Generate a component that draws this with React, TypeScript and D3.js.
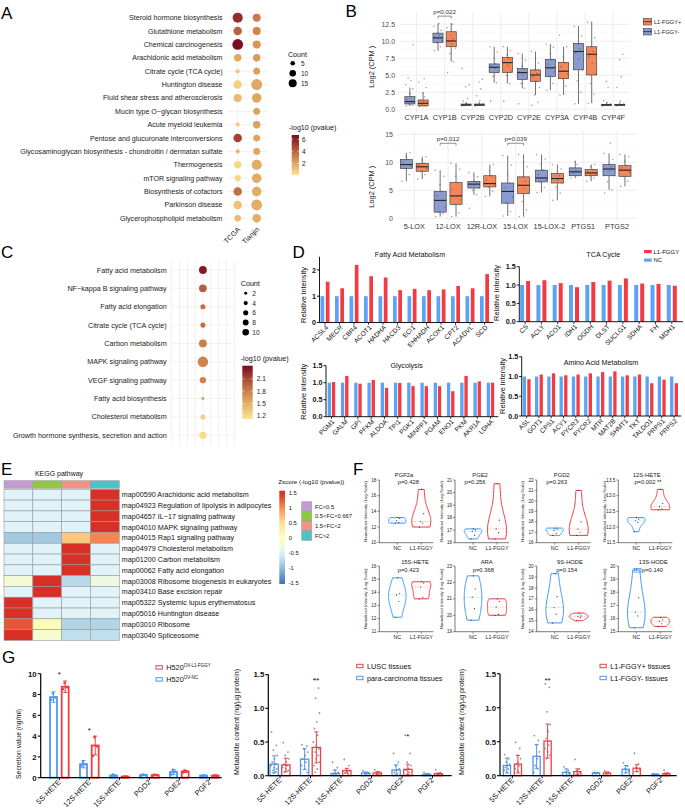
import React from "react";
import * as d3 from "d3";

const FONT = "'Liberation Sans', Arial, Helvetica, sans-serif";
const JIT = [-3.4, 2.2, -1.1, 3.7, 0.5, -2.6, 1.4, -0.2, 2.9, -3.9, 1.0, -1.7, 3.2, -0.8, 2.5, -2.1, 0.2];

// ---------------- Panel A data ----------------
const A_PATHWAYS = [
  "Steroid hormone biosynthesis",
  "Glutathione metabolism",
  "Chemical carcinogenesis",
  "Arachidonic acid metabolism",
  "Citrate cycle (TCA cycle)",
  "Huntington disease",
  "Fluid shear stress and atherosclerosis",
  "Mucin type O\u2212glycan biosynthesis",
  "Acute myeloid leukemia",
  "Pentose and glucuronate interconversions",
  "Glycosaminoglycan biosynthesis - chondroitin / dermatan sulfate",
  "Thermogenesis",
  "mTOR signaling pathway",
  "Biosynthesis of cofactors",
  "Parkinson disease",
  "Glycerophospholipid metabolism",
];
const A_COHORTS = ["TCGA", "Tianjin"];
const A_TCGA_LOGP = [5.6, 4.0, 6.6, 1.9, 1.0, 0.6, 1.4, null, 0.8, 5.0, 1.4, 0.4, 0.5, 3.6, 1.1, 1.3];
const A_TCGA_COUNT = [24, 17, 27, 13, 4, 17, 15, null, 4, 17, 4, 13, 9, 17, 17, 10];
const A_TIANJIN_LOGP = [3.3, 3.0, 2.4, 2.3, 2.2, 1.9, 2.0, 2.1, 2.1, 2.0, 2.0, 1.8, 1.8, 1.8, 1.7, 1.8];
const A_TIANJIN_COUNT = [15, 15, 15, 13, 11, 28, 21, 11, 13, 11, 11, 24, 21, 21, 27, 17];
const A_COUNT_LEGEND = [5, 10, 15];
const A_LOGP_LEGEND = [2, 4, 6];

// ---------------- Panel B data ----------------
const B_GROUPS = ["L1-FGGY+", "L1-FGGY-"];
const B1_GENES = ["CYP1A", "CYP1B", "CYP2B", "CYP2D", "CYP2E", "CYP3A", "CYP4B", "CYP4F"];
// [lower whisker, q1, median, q3, upper whisker]
const B1_NEG = [
  [0.5, 0.78, 1.13, 1.86, 3.2], [8.6, 9.8, 10.5, 11.2, 12.6], [0.5, 0.55, 0.65, 0.78, 1.1], [3.9, 5.39, 6.18, 6.67, 9.2],
  [3.1, 4.4, 5.4, 6.0, 8.2], [2.8, 4.8, 6.1, 7.35, 9.6], [0.8, 5.8, 8.5, 9.7, 12.25], [0.5, 0.55, 0.65, 0.73, 1.0],
];
const B1_POS = [
  [0.4, 0.5, 0.88, 1.37, 2.5], [7.0, 9.2, 10.05, 11.4, 12.7], [0.5, 0.55, 0.65, 0.78, 1.1], [3.8, 5.4, 6.86, 7.65, 9.2],
  [2.1, 4.1, 5.05, 5.8, 8.5], [2.1, 4.5, 5.6, 6.9, 9.2], [0.9, 5.05, 8.1, 9.2, 12.9], [0.5, 0.55, 0.65, 0.73, 1.0],
];
const B1_NEG_PTS = [
  [0.5, 0.6, 0.8, 1.0, 1.2, 1.5, 1.8, 2.3, 3.0, 3.6, 4.2, 4.6, 9.5],
  [8.6, 9.2, 9.8, 10.1, 10.4, 10.6, 10.9, 11.2, 11.6, 12.2, 12.6],
  [0.5, 0.6, 0.7, 0.7, 0.8, 1.2, 1.6, 3.3, 3.6, 6.0],
  [1.2, 3.9, 4.8, 5.4, 6.0, 6.3, 6.7, 7.5, 8.4, 9.2],
  [0.8, 3.1, 3.8, 4.5, 5.1, 5.5, 5.9, 6.4, 7.2, 8.2],
  [2.8, 3.8, 4.9, 5.5, 6.1, 6.6, 7.3, 8.2, 9.1, 9.6],
  [0.8, 2.5, 4.2, 5.8, 7.4, 8.3, 8.9, 9.6, 10.8, 12.2],
  [0.5, 0.6, 0.7, 0.8, 1.0, 1.3, 3.2, 4.1],
];
const B1_POS_PTS = [
  [0.4, 0.5, 0.7, 0.9, 1.1, 1.3, 1.8, 2.4, 3.2, 4.0, 4.5],
  [5.4, 7.0, 8.2, 9.0, 9.6, 10.0, 10.4, 10.9, 11.4, 12.0, 12.5],
  [0.5, 0.6, 0.7, 0.8, 1.3, 2.0, 3.0, 4.0, 4.4],
  [1.2, 3.8, 5.0, 5.6, 6.4, 6.9, 7.4, 8.0, 8.6, 9.2],
  [0.6, 1.0, 2.1, 3.2, 4.2, 4.8, 5.3, 5.8, 6.8, 8.5],
  [2.1, 3.4, 4.5, 5.2, 5.6, 6.2, 6.8, 7.8, 9.2, 10.9],
  [0.9, 2.2, 3.8, 5.1, 6.8, 7.8, 8.5, 9.2, 10.5, 12.8],
  [0.5, 0.6, 0.7, 0.8, 1.2, 3.2, 4.8, 7.3, 8.1],
];
const B1_TICKS = [0, 2.5, 5, 7.5, 10, 12.5];
const B1_SIG = [{ gene: "CYP1B", label: "p=0.022", at: 13.7 }];

const B2_GENES = ["5-LOX", "12-LOX", "12R-LOX", "15-LOX", "15-LOX-2", "PTGS1", "PTGS2"];
const B2_NEG = [
  [6.6, 8.9, 9.6, 10.5, 11.7], [0.3, 1.1, 3.2, 4.8, 8.6], [4.2, 5.4, 6.1, 6.6, 8.2], [0.4, 2.7, 4.8, 6.3, 11.2],
  [4.6, 6.5, 7.2, 8.6, 11.4], [7.2, 7.6, 8.3, 9.0, 10.2], [5.1, 7.6, 8.8, 9.6, 11.6],
];
const B2_POS = [
  [7.0, 8.4, 9.2, 9.8, 11.0], [0.3, 2.5, 4.0, 6.4, 9.8], [3.9, 5.6, 6.2, 7.6, 9.6], [0.3, 4.4, 5.9, 7.4, 11.4],
  [3.2, 6.3, 7.1, 8.0, 9.6], [6.6, 7.6, 8.1, 8.7, 9.6], [5.7, 7.5, 8.6, 9.4, 11.4],
];
const B2_NEG_PTS = [
  [6.6, 7.8, 8.9, 9.3, 9.6, 10.0, 10.5, 11.0, 11.7],
  [0.3, 0.8, 1.1, 2.0, 3.2, 4.0, 4.8, 6.0, 7.5, 8.6],
  [1.8, 4.2, 5.0, 5.4, 5.9, 6.1, 6.4, 6.6, 7.4, 8.2],
  [0.4, 1.2, 2.7, 3.8, 4.8, 5.5, 6.3, 7.8, 9.5, 11.2],
  [4.6, 5.5, 6.5, 6.9, 7.2, 7.8, 8.6, 9.6, 10.6, 11.4],
  [7.2, 7.6, 7.9, 8.3, 8.6, 9.0, 9.6, 10.2],
  [4.5, 5.1, 6.5, 7.6, 8.4, 8.8, 9.2, 9.6, 10.5, 11.6, 13.4],
];
const B2_POS_PTS = [
  [7.0, 7.8, 8.4, 8.9, 9.2, 9.5, 9.8, 10.4, 11.0],
  [0.3, 1.0, 2.5, 3.3, 4.0, 5.2, 6.4, 7.5, 8.8, 9.8],
  [3.9, 4.8, 5.6, 6.0, 6.2, 6.8, 7.6, 8.5, 9.6],
  [0.3, 1.5, 3.0, 4.4, 5.3, 5.9, 6.6, 7.4, 9.2, 11.4],
  [3.2, 4.5, 5.6, 6.3, 6.8, 7.1, 7.6, 8.0, 8.8, 9.6],
  [6.6, 7.2, 7.6, 7.9, 8.1, 8.4, 8.7, 9.2, 9.6],
  [5.7, 6.6, 7.5, 8.2, 8.6, 9.0, 9.4, 10.2, 11.0, 11.4],
];
const B2_TICKS = [0, 5, 10, 15];
const B2_SIG = [
  { gene: "12-LOX", label: "p=0.012", at: 13.4 },
  { gene: "15-LOX", label: "p=0.039", at: 13.4 },
];

// ---------------- Panel C data ----------------
const C_PATHWAYS = [
  "Fatty acid metabolism",
  "NF\u2212kappa B signaling pathway",
  "Fatty acid elongation",
  "Citrate cycle (TCA cycle)",
  "Carbon metabolism",
  "MAPK signaling pathway",
  "VEGF signaling pathway",
  "Fatty acid biosynthesis",
  "Cholesterol metabolism",
  "Growth hormone synthesis, secretion and action",
];
const C_LOGP = [2.35, 1.97, 1.88, 1.88, 1.8, 1.76, 1.77, 1.62, 1.25, 1.17];
const C_COUNT = [14, 14, 6, 6, 14, 25, 9, 2, 6, 12];
const C_COUNT_LEGEND = [2, 4, 6, 8, 10];
const C_LOGP_LEGEND = [1.2, 1.5, 1.8, 2.1];

// ---------------- Panel D data ----------------
const D_LEGEND = ["L1-FGGY", "NC"];
const D_FA_GENES = ["ACSL4", "MECR", "CBR4", "ACOT1", "HADHA", "HACD3", "ECI1", "EHHADH", "ACOX1", "CPT2", "ACADVL", "SCD"];
const D_FA_NC = [1, 1, 1, 1, 1, 1, 1, 1, 1, 1, 1, 1];
const D_FA_FGGY = [1.55, 1.3, 2.19, 1.76, 1.71, 1.23, 1.28, 1.23, 1.26, 1.39, 1.3, 1.84];
const D_FA_TICKS = [0, 1, 2];
const D_TCA_GENES = ["CS", "ACLY", "ACO1", "IDH1", "OGDH", "DLST", "SUCLG1", "SDHA", "FH", "MDH1"];
const D_TCA_NC = [1, 1, 1, 1, 1, 1, 1, 1, 1, 1];
const D_TCA_FGGY = [1.11, 1.13, 1.05, 0.94, 1.08, 1.12, 1.18, 1.04, 1.03, 0.98];
const D_GLY_GENES = ["PGM1", "GALM", "GPI", "PFKM", "ALDOA", "TPI1", "PGK1", "MINPP1", "PGAM", "ENO1", "PKM", "AKR1A", "LDHA"];
const D_GLY_NC = [1, 1, 1, 1, 1, 1, 1, 1, 1, 1, 1, 1, 1];
const D_GLY_FGGY = [1.02, 1.2, 0.97, 1.08, 0.85, 0.99, 0.9, 0.9, 0.9, 0.75, 1.2, 1.04, 1.0];
const D_AA_GENES = ["ASL", "GOT1", "CPS1", "ACY1", "PYCR3", "PYCR2", "MTR", "MAT2B", "SHMT1", "TKT", "TALDO1", "PRPS1", "PRPS2"];
const D_AA_NC = [1, 1, 1, 1, 1, 1, 1, 1, 1, 1, 1, 1, 1];
const D_AA_FGGY = [0.93, 1.05, 1.08, 1.03, 1.05, 1.08, 1.11, 1.13, 1.03, 1.05, 0.83, 0.92, 0.83];
const D_HALF_TICKS = [0, 0.5, 1, 1.5];

// ---------------- Panel E data ----------------
const E_GROUPS = ["FC<0.5", "0.5<FC<0.667", "1.5<FC<2", "FC>2"];
const E_PATHWAYS = [
  "map00590 Arachidonic acid metabolism",
  "map04923 Regulation of lipolysis in adipocytes",
  "map04657 IL\u221217 signaling pathway",
  "map04010 MAPK signaling pathway",
  "map04015 Rap1 signaling pathway",
  "map04979 Cholesterol metabolism",
  "map01200 Carbon metabolism",
  "map00062 Fatty acid elongation",
  "map03008 Ribosome biogenesis in eukaryotes",
  "map03410 Base excision repair",
  "map05322 Systemic lupus erythematosus",
  "map05016 Huntington disease",
  "map03010 Ribosome",
  "map03040 Spliceosome",
];
const E_Z = [
  [-0.5, -0.5, -0.5, 1.5], [-0.5, -0.5, -0.5, 1.5], [-0.5, -0.5, -0.5, 1.5], [-0.5, -0.5, -0.5, 1.5],
  [-0.9, -0.9, 0.65, 1.05], [-0.5, -0.5, 1.5, -0.5], [-0.5, -0.5, 1.5, -0.5], [-0.5, -0.5, 1.5, -0.5],
  [-0.2, 1.5, -0.75, -0.3], [-0.5, 1.5, -0.5, -0.5], [1.5, -0.5, -0.5, -0.5], [1.5, -0.5, -0.5, -0.5],
  [1.3, 0.05, -0.8, -0.8], [1.5, -0.15, -0.7, -0.7],
];
const E_LEGEND_TICKS = [1.5, 1, 0.5, 0, -0.5, -1, -1.5];

// ---------------- Panel F data ----------------
const F_GROUPS = ["NC", "L1-FGGY"];
const F_TITLES = ["PGF2a", "PGE2", "PGD2", "12S-HETE", "15S-HETE", "ARA", "9S-HODE", "13S-HODE"];
const F_PVALUES = ["p=0.428", "p=0.256", "p=0.263", "p=0.002 **", "p=0.423", "p=0.368", "p=0.154", "p=0.140"];
const F_TICKS = [
  [10, 12, 14, 16, 18], [16, 17, 18, 19, 20, 21], [16, 17, 18, 19, 20, 21, 22], [11.5, 12, 12.5, 13, 13.5],
  [11, 12, 13, 14, 15, 16], [19, 20, 21, 22, 23], [14, 15, 16, 17, 18, 19, 20], [15, 16, 17, 18, 19, 20],
];
const F_NC = [
  [12.5, 12.55, 12.8, 13.1, 13.2], [16.3, 16.6, 16.9, 17.0, 17.1], [16.7, 16.9, 17.2, 17.3, 17.4], [11.85, 12.15, 12.2, 12.25, 12.3],
  [12.1, 13.3, 13.8, 13.9, 15.1], [19.7, 20.4, 21.1, 21.6, 22.4], [14.8, 15.6, 16.2, 17.2, 19.3], [15.3, 16.2, 16.5, 17.6, 19.7],
];
const F_L1 = [
  [12.0, 12.5, 12.7, 13.7, 16.8], [16.3, 16.8, 17.1, 17.8, 20.7], [16.7, 17.0, 17.3, 18.0, 21.0], [12.55, 12.58, 12.65, 12.75, 13.2],
  [13.5, 13.6, 14.4, 14.7, 14.8], [20.0, 20.05, 20.5, 20.85, 21.0], [15.0, 15.3, 15.4, 15.45, 15.7], [15.4, 15.6, 15.8, 15.9, 16.1],
];

// ---------------- Panel G data ----------------
const G_CATS = ["5S-HETE", "12S-HETE", "15S-HETE", "PGD2", "PGE2", "PGF2"];
const G1_BLUE_MEAN = [7.75, 1.3, 0.2, 0.25, 0.55, 0.2];
const G1_BLUE_SD = [0.5, 0.35, 0.1, 0.05, 0.25, 0.03];
const G1_RED_MEAN = [8.75, 3.1, 0.1, 0.25, 0.6, 0.2];
const G1_RED_SD = [0.55, 0.9, 0.03, 0.05, 0.1, 0.03];
const G1_BLUE_PTS = [[7.5, 7.7, 8.1], [1.1, 1.3, 1.5], [0.1, 0.2, 0.3], [0.2, 0.25, 0.3], [0.3, 0.6, 0.75], [0.17, 0.2, 0.23]];
const G1_RED_PTS = [[8.5, 8.7, 9.1], [2.1, 3.0, 3.9], [0.08, 0.1, 0.12], [0.2, 0.25, 0.3], [0.5, 0.6, 0.7], [0.17, 0.2, 0.23]];
const G1_SIG = ["*", "*", "", "", "", ""];
const G1_TICKS = [0, 2, 4, 6, 8, 10];

const G2_BLUE_MEAN = [0.17, 0.245, 0.035, 0.04, 0.085, 0.02];
const G2_BLUE_SD = [0.125, 0.155, 0.05, 0.015, 0.075, 0.01];
const G2_RED_MEAN = [0.16, 0.42, 0.075, 0.04, 0.095, 0.03];
const G2_RED_SD = [0.1, 0.23, 0.035, 0.02, 0.075, 0.01];
const G2_BLUE_PTS = [
  [0.65, 0.45, 0.38, 0.3, 0.25, 0.2, 0.18, 0.15, 0.12, 0.1, 0.08, 0.06, 0.04],
  [0.46, 0.44, 0.4, 0.35, 0.3, 0.25, 0.2, 0.15, 0.1, 0.05],
  [0.2, 0.12, 0.08, 0.05, 0.03, 0.02, 0.01],
  [0.07, 0.05, 0.04, 0.03, 0.02],
  [0.33, 0.2, 0.15, 0.1, 0.08, 0.05, 0.03],
  [0.05, 0.03, 0.02, 0.01],
];
const G2_RED_PTS = [
  [0.49, 0.35, 0.3, 0.25, 0.2, 0.17, 0.15, 0.12, 0.1, 0.08, 0.05],
  [1.43, 1.3, 1.15, 0.93, 0.8, 0.7, 0.6, 0.5, 0.45, 0.4, 0.35, 0.3, 0.25, 0.2, 0.15, 0.1, 0.05],
  [0.24, 0.15, 0.1, 0.08, 0.06, 0.04, 0.02],
  [0.09, 0.06, 0.04, 0.03, 0.02],
  [0.6, 0.33, 0.2, 0.15, 0.1, 0.08, 0.05],
  [0.09, 0.05, 0.03, 0.02],
];
const G2_SIG = ["", "**", "", "", "*", ""];

const G3_BLUE_MEAN = [0.15, 0.285, 0.05, 0.04, 0.095, 0.02];
const G3_BLUE_SD = [0.11, 0.175, 0.05, 0.01, 0.055, 0.005];
const G3_RED_MEAN = [0.17, 0.51, 0.06, 0.04, 0.11, 0.03];
const G3_RED_SD = [0.13, 0.25, 0.04, 0.015, 0.05, 0.01];
const G3_BLUE_PTS = [
  [0.31, 0.25, 0.2, 0.17, 0.15, 0.12, 0.1, 0.08, 0.05],
  [0.59, 0.52, 0.45, 0.35, 0.25, 0.15, 0.1, 0.05],
  [0.13, 0.08, 0.05, 0.03, 0.02],
  [0.05, 0.04, 0.03],
  [0.19, 0.14, 0.1, 0.07, 0.05],
  [0.03, 0.02, 0.01],
];
const G3_RED_PTS = [
  [0.49, 0.4, 0.3, 0.25, 0.2, 0.17, 0.14, 0.1, 0.07],
  [1.35, 1.3, 0.94, 0.75, 0.65, 0.55, 0.45, 0.4, 0.35, 0.3, 0.25],
  [0.24, 0.1, 0.07, 0.05, 0.03],
  [0.07, 0.05, 0.03],
  [0.33, 0.17, 0.12, 0.09, 0.06],
  [0.08, 0.04, 0.02],
];
const G3_SIG = ["", "**", "", "", "", ""];
const G_FRAC_TICKS = [0, 0.5, 1, 1.5];

// ======================= Panel A =======================
function PanelA() {
  const y = d3.scalePoint().domain(A_PATHWAYS).range([17.7, 218.3]);
  const x = d3.scalePoint().domain(A_COHORTS).range([237.7, 256.7]);
  const size = d3.scaleSqrt().domain([0, 15]).range([0, 4]);
  const color = d3.scaleLinear().domain([0.05, 2.2, 4.4, 6.7]).range(["#fce48f", "#dc9f5b", "#b3543a", "#7a0a1f"]).clamp(true);
  const ly = d3.scaleLinear().domain([0.05, 6.7]).range([175, 135]);
  const cols = [
    { name: A_COHORTS[0], p: A_TCGA_LOGP, n: A_TCGA_COUNT },
    { name: A_COHORTS[1], p: A_TIANJIN_LOGP, n: A_TIANJIN_COUNT },
  ];
  const stops = d3.range(0, 11).map((i) => i / 10);
  return (
    <g>
      <defs>
        <linearGradient id="gradA" x1="0" y1="1" x2="0" y2="0">
          {stops.map((s) => (
            <stop key={s} offset={s} stopColor={color(0.05 + s * 6.65)} />
          ))}
        </linearGradient>
      </defs>
      <text x={1} y={18.5} fontSize={17}>A</text>
      {A_PATHWAYS.map((p) => (
        <line key={"h" + p} x1={227} x2={268} y1={y(p)} y2={y(p)} stroke="#ebebeb" strokeWidth={0.7} />
      ))}
      {A_COHORTS.map((c) => (
        <line key={"v" + c} x1={x(c)} x2={x(c)} y1={9.5} y2={226.5} stroke="#ebebeb" strokeWidth={0.7} />
      ))}
      {A_PATHWAYS.map((p) => (
        <text key={"t" + p} x={222.5} y={y(p) + 2.5} fontSize={7.1} textAnchor="end" fill="#222">{p}</text>
      ))}
      {cols.map((c) =>
        A_PATHWAYS.map((p, i) =>
          c.p[i] == null ? null : (
            <circle key={c.name + p} cx={x(c.name)} cy={y(p)} r={size(c.n[i])} fill={color(c.p[i])} />
          )
        )
      )}
      {A_COHORTS.map((c) => (
        <text key={"x" + c} transform={`translate(${x(c) + 3},${230}) rotate(-45)`} fontSize={7.1} textAnchor="end" fill="#222">{c}</text>
      ))}
      <text x={288} y={56.5} fontSize={7.1} fill="#111">Count</text>
      {A_COUNT_LEGEND.map((c, i) => (
        <g key={"cl" + c}>
          <circle cx={292.7} cy={63.3 + i * 10} r={size(c)} fill="#000" />
          <text x={301} y={63.3 + i * 10 + 2.5} fontSize={6.5} fill="#222">{c}</text>
        </g>
      ))}
      <text x={289} y={130} fontSize={7.1} fill="#111">-log10 (pvalue)</text>
      <rect x={291.7} y={135} width={7.3} height={40} fill="url(#gradA)" />
      {A_LOGP_LEGEND.map((v) => (
        <g key={"pl" + v}>
          <line x1={291.7} x2={293.2} y1={ly(v)} y2={ly(v)} stroke="#fff" strokeWidth={0.6} />
          <line x1={297.5} x2={299} y1={ly(v)} y2={ly(v)} stroke="#fff" strokeWidth={0.6} />
          <text x={302} y={ly(v) + 2.4} fontSize={6.5} fill="#222">{v}</text>
        </g>
      ))}
    </g>
  );
}

// ======================= Panel B =======================
const B_NEG_FILL = "#8a9bcf";
const B_POS_FILL = "#f4875a";

function BoxPlot({ cx, w, st, pts, fill, y }) {
  const [lo, q1, med, q3, hi] = st;
  return (
    <g>
      <line x1={cx} x2={cx} y1={y(hi)} y2={y(q3)} stroke="#333" strokeWidth={0.7} />
      <line x1={cx} x2={cx} y1={y(q1)} y2={y(lo)} stroke="#333" strokeWidth={0.7} />
      <rect x={cx - w / 2} y={y(q3)} width={w} height={Math.max(0.8, y(q1) - y(q3))} fill={fill} stroke="#333" strokeWidth={0.6} />
      <line x1={cx - w / 2} x2={cx + w / 2} y1={y(med)} y2={y(med)} stroke="#222" strokeWidth={1.1} />
      {pts.map((v, i) => (
        <circle key={i} cx={cx + (JIT[i % JIT.length] * w) / 9.5} cy={y(v)} r={0.8} fill="#4a4a4a" fillOpacity={0.5} />
      ))}
    </g>
  );
}

function BoxPanel({ genes, neg, pos, negPts, posPts, x, y, ticks, fmt, left, right, top, bottom, labelX, labelY, sig, titleY }) {
  const step = x.step();
  const off = 0.235 * step;
  const w = 0.36 * step;
  const minor = ticks.slice(0, -1).map((t, i) => (t + ticks[i + 1]) / 2);
  return (
    <g>
      {minor.map((t) => (
        <line key={"mn" + t} x1={left} x2={right} y1={y(t)} y2={y(t)} stroke="#f3f3f3" strokeWidth={0.5} />
      ))}
      {ticks.map((t) => (
        <line key={"mj" + t} x1={left} x2={right} y1={y(t)} y2={y(t)} stroke="#e6e6e6" strokeWidth={0.7} />
      ))}
      {genes.map((g) => (
        <line key={"vg" + g} x1={x(g)} x2={x(g)} y1={top} y2={bottom} stroke="#e6e6e6" strokeWidth={0.7} />
      ))}
      {ticks.map((t) => (
        <text key={"tl" + t} x={left - 4.5} y={y(t) + 2.5} fontSize={7} textAnchor="end" fill="#4d4d4d">{fmt(t)}</text>
      ))}
      {genes.map((g, i) => (
        <g key={g}>
          <BoxPlot cx={x(g) - off} w={w} st={neg[i]} pts={negPts[i]} fill={B_NEG_FILL} y={y} />
          <BoxPlot cx={x(g) + off} w={w} st={pos[i]} pts={posPts[i]} fill={B_POS_FILL} y={y} />
          <text x={x(g)} y={labelY} fontSize={7.3} textAnchor="middle" fill="#333">{g}</text>
        </g>
      ))}
      {sig.map((s) => {
        const cx = x(s.gene);
        const yy = y(s.at);
        return (
          <g key={s.label}>
            <path d={`M${cx - off},${yy + 2.4}V${yy}H${cx + off}V${yy + 2.4}`} fill="none" stroke="#444" strokeWidth={0.6} />
            <text x={cx} y={yy - 2.2} fontSize={6.2} textAnchor="middle" fill="#333">{s.label}</text>
          </g>
        );
      })}
      <text transform={`translate(${labelX},${titleY}) rotate(-90)`} fontSize={7.4} textAnchor="middle" fill="#222">Log2 (CPM )</text>
    </g>
  );
}

function PanelB() {
  const x1 = d3.scalePoint().domain(B1_GENES).range([416.5, 613.2]);
  const y1 = d3.scaleLinear().domain([0, 12.5]).range([109.3, 24.3]);
  const x2 = d3.scalePoint().domain(B2_GENES).range([414.3, 617]);
  const y2 = d3.scaleLinear().domain([0, 15]).range([218.3, 134.3]);
  const legendFills = [B_POS_FILL, B_NEG_FILL];
  return (
    <g>
      <text x={345.5} y={17} fontSize={17}>B</text>
      <BoxPanel genes={B1_GENES} neg={B1_NEG} pos={B1_POS} negPts={B1_NEG_PTS} posPts={B1_POS_PTS} x={x1} y={y1}
        ticks={B1_TICKS} fmt={d3.format(".1f")} left={399.6} right={630} top={12} bottom={113.5}
        labelX={374} labelY={120} sig={B1_SIG} titleY={66.7} />
      <BoxPanel genes={B2_GENES} neg={B2_NEG} pos={B2_POS} negPts={B2_NEG_PTS} posPts={B2_POS_PTS} x={x2} y={y2}
        ticks={B2_TICKS} fmt={d3.format("d")} left={397.5} right={637} top={131} bottom={222}
        labelX={374} labelY={228.5} sig={B2_SIG} titleY={186.7} />
      {B_GROUPS.map((g, i) => (
        <g key={g}>
          <rect x={643.3} y={18.3 + i * 10} width={8.4} height={6.7} fill={legendFills[i]} stroke="#333" strokeWidth={0.5} />
          <line x1={643.3} x2={651.7} y1={21.65 + i * 10} y2={21.65 + i * 10} stroke="#222" strokeWidth={0.8} />
          <text x={654} y={24 + i * 10} fontSize={5.6} fill="#222">{g}</text>
        </g>
      ))}
    </g>
  );
}

// ======================= Panel C =======================
function PanelC() {
  const y = d3.scalePoint().domain(C_PATHWAYS).range([270, 435.3]);
  const cx = 202.9;
  const size = d3.scaleSqrt().domain([0, 10]).range([0, 3.3]);
  const color = d3.scaleLinear().domain([1.12, 1.5, 1.8, 2.1, 2.42]).range(["#fbe38f", "#e2b066", "#c97e4b", "#a9483a", "#7a0c1f"]).clamp(true);
  const ly = d3.scaleLinear().domain([1.12, 2.42]).range([419, 365.7]);
  const stops = d3.range(0, 11).map((i) => i / 10);
  const vx = d3.range(0, 9).map((k) => 171.7 + k * 7.83);
  return (
    <g>
      <defs>
        <linearGradient id="gradC" x1="0" y1="1" x2="0" y2="0">
          {stops.map((s) => (
            <stop key={s} offset={s} stopColor={color(1.12 + s * 1.3)} />
          ))}
        </linearGradient>
      </defs>
      <text x={1} y={257.5} fontSize={17}>C</text>
      {vx.map((v) => (
        <line key={"v" + v} x1={v} x2={v} y1={260} y2={446} stroke="#ebebeb" strokeWidth={0.7} />
      ))}
      {C_PATHWAYS.map((p) => (
        <line key={"h" + p} x1={171.7} x2={234.3} y1={y(p)} y2={y(p)} stroke="#ebebeb" strokeWidth={0.7} />
      ))}
      {C_PATHWAYS.map((p, i) => (
        <g key={p}>
          <text x={166.7} y={y(p) + 2.5} fontSize={7.2} textAnchor="end" fill="#222">{p}</text>
          <circle cx={cx} cy={y(p)} r={size(C_COUNT[i])} fill={color(C_LOGP[i])} />
        </g>
      ))}
      <text x={240.7} y={286} fontSize={7.2} fill="#111">Count</text>
      {C_COUNT_LEGEND.map((c, i) => (
        <g key={"cl" + c}>
          <circle cx={245.7} cy={293.3 + i * 9.75} r={size(c)} fill="#000" />
          <text x={252.3} y={293.3 + i * 9.75 + 2.5} fontSize={6.6} fill="#222">{c}</text>
        </g>
      ))}
      <text x={240.7} y={360.5} fontSize={7.2} fill="#111">-log10 (pvalue)</text>
      <rect x={242.3} y={365.7} width={10.4} height={53.3} fill="url(#gradC)" />
      {C_LOGP_LEGEND.map((v) => (
        <g key={"pl" + v}>
          <line x1={242.3} x2={244.3} y1={ly(v)} y2={ly(v)} stroke="#fff" strokeWidth={0.6} />
          <line x1={250.7} x2={252.7} y1={ly(v)} y2={ly(v)} stroke="#fff" strokeWidth={0.6} />
          <text x={256.7} y={ly(v) + 2.4} fontSize={6.6} fill="#222">{v.toFixed(1)}</text>
        </g>
      ))}
    </g>
  );
}

// ======================= Panel D =======================
const D_BLUE = "#5ba3f5";
const D_RED = "#f43b41";

function DBarPanel({ genes, nc, fg, ticks, L }) {
  const y = d3.scaleLinear().domain([0, L.yMax]).range([L.base, L.base - L.yMax * L.ppu]);
  const x = d3.scaleBand().domain(genes).range([L.axisX, L.axisX + genes.length * L.step]);
  const fmt = d3.format(L.fmt);
  const ctr = (g) => x(g) + (L.bOff + L.rOff + L.bw) / 2;
  return (
    <g>
      <text x={L.titleX} y={L.titleY} fontSize={7.2} textAnchor="middle" fill="#111">{L.title}</text>
      <text transform={`translate(${L.ylabX},${L.ylabY}) rotate(-90)`} fontSize={7.4} textAnchor="middle" fill="#111">Relative intensity</text>
      {genes.map((g, i) => (
        <g key={g}>
          <rect x={x(g) + L.bOff} y={y(nc[i])} width={L.bw} height={L.base - y(nc[i])} fill={D_BLUE} />
          <rect x={x(g) + L.rOff} y={y(fg[i])} width={L.bw} height={L.base - y(fg[i])} fill={D_RED} />
          <line x1={ctr(g)} x2={ctr(g)} y1={L.base} y2={L.base + 2.2} stroke="#000" strokeWidth={0.8} />
          <text transform={`translate(${ctr(g) + 3.5},${L.base + 5.5}) rotate(-45)`} fontSize={6.6} textAnchor="end" fill="#111">{g}</text>
        </g>
      ))}
      <line x1={L.axisX} x2={L.axisX} y1={L.base} y2={y(L.yMax)} stroke="#000" strokeWidth={0.9} />
      <line x1={L.axisX} x2={L.xEnd} y1={L.base} y2={L.base} stroke="#000" strokeWidth={0.9} />
      {ticks.map((t) => (
        <g key={t}>
          <line x1={L.axisX - 2.5} x2={L.axisX} y1={y(t)} y2={y(t)} stroke="#000" strokeWidth={0.9} />
          <text x={L.axisX - 3.5} y={y(t) + 2.6} fontSize={7.2} fontWeight="bold" textAnchor="end" fill="#111">{fmt(t)}</text>
        </g>
      ))}
    </g>
  );
}

function PanelD() {
  const FA = { axisX: 319.5, base: 322.5, ppu: 26.3, yMax: 2.5, fmt: "d", step: 14.5, bOff: 1, rOff: 6.3, bw: 3.7, xEnd: 493.5,
    title: "Fatty Acid Metabolism", titleX: 410, titleY: 256.5, ylabX: 306, ylabY: 295 };
  const TCA = { axisX: 519.3, base: 321.7, ppu: 36.7, yMax: 1.5, fmt: ".1f", step: 16.3, bOff: 0.8, rOff: 6.8, bw: 4, xEnd: 683,
    title: "TCA Cycle", titleX: 603.3, titleY: 256.5, ylabX: 498.5, ylabY: 293 };
  const GLY = { axisX: 326, base: 416.7, ppu: 34, yMax: 1.5, fmt: ".1f", step: 13.25, bOff: 1.7, rOff: 5.9, bw: 3.3, xEnd: 498.3,
    title: "Glycolysis", titleX: 406.7, titleY: 368, ylabX: 306, ylabY: 391.7 };
  const AA = { axisX: 521.7, base: 416, ppu: 39.5, yMax: 1.5, fmt: ".1f", step: 12.28, bOff: 1, rOff: 5.6, bw: 3.3, xEnd: 681.3,
    title: "Amino Acid Metabolism", titleX: 601, titleY: 365, ylabX: 505, ylabY: 386 };
  const legendColors = [D_RED, D_BLUE];
  return (
    <g>
      <text x={292.5} y={257.5} fontSize={17}>D</text>
      <DBarPanel genes={D_FA_GENES} nc={D_FA_NC} fg={D_FA_FGGY} ticks={D_FA_TICKS} L={FA} />
      <DBarPanel genes={D_TCA_GENES} nc={D_TCA_NC} fg={D_TCA_FGGY} ticks={D_HALF_TICKS} L={TCA} />
      <DBarPanel genes={D_GLY_GENES} nc={D_GLY_NC} fg={D_GLY_FGGY} ticks={D_HALF_TICKS} L={GLY} />
      <DBarPanel genes={D_AA_GENES} nc={D_AA_NC} fg={D_AA_FGGY} ticks={D_HALF_TICKS} L={AA} />
      {D_LEGEND.map((g, i) => (
        <g key={g}>
          <rect x={644} y={250 + i * 8.5} width={7.7} height={3.2} fill={legendColors[i]} />
          <text x={653.5} y={253.8 + i * 8.5} fontSize={6} fill="#111">{g}</text>
        </g>
      ))}
    </g>
  );
}

// ======================= Panel E =======================
function PanelE() {
  const x = d3.scaleBand().domain(E_GROUPS).range([4, 119.3]);
  const y = d3.scaleBand().domain(E_PATHWAYS).range([489.3, 640.4]);
  const color = d3.scaleLinear().domain([-1.5, -1, -0.5, 0, 0.5, 1, 1.5])
    .range(["#4575b4", "#91bfdb", "#e0f3f8", "#ffffbf", "#fee090", "#fc8d59", "#d73027"]).clamp(true);
  const ly = d3.scaleLinear().domain([-1.5, 1.5]).range([582.7, 493.3]);
  const annColors = ["#c49bd1", "#8fc73e", "#f4928a", "#4cc3c9"];
  const stops = d3.range(0, 21).map((i) => i / 20);
  return (
    <g>
      <defs>
        <linearGradient id="gradE" x1="0" y1="1" x2="0" y2="0">
          {stops.map((s) => (
            <stop key={s} offset={s} stopColor={color(ly.invert(584 - s * 93.3))} />
          ))}
        </linearGradient>
      </defs>
      <text x={1} y={475} fontSize={17}>E</text>
      <text x={59} y={476} fontSize={7} textAnchor="middle" fill="#111">KEGG pathway</text>
      {E_GROUPS.map((g, j) => (
        <rect key={"a" + g} x={x(g)} y={480.7} width={x.bandwidth()} height={7.6} fill={annColors[j]} stroke="#a0a0a0" strokeWidth={0.6} />
      ))}
      {E_PATHWAYS.map((p, i) => (
        <g key={p}>
          {E_GROUPS.map((g, j) => (
            <rect key={g} x={x(g)} y={y(p)} width={x.bandwidth()} height={y.bandwidth()} fill={color(E_Z[i][j])} stroke="#9a9a9a" strokeWidth={0.6} />
          ))}
          <text x={121.8} y={y(p) + y.bandwidth() / 2 + 2.6} fontSize={7.2} fill="#111">{p}</text>
        </g>
      ))}
      <text x={278.3} y={484} fontSize={6.2} fill="#111">Zscore (-log10 (pvalue))</text>
      <rect x={279.3} y={490.7} width={5.7} height={93.3} fill="url(#gradE)" />
      {E_LEGEND_TICKS.map((t) => (
        <text key={t} x={288.7} y={ly(t) + 2.1} fontSize={5.8} fill="#111">{t}</text>
      ))}
      {E_GROUPS.map((g, j) => (
        <g key={"l" + g}>
          <rect x={301.7} y={501.7 + j * 9.7} width={10} height={9.7} fill={annColors[j]} stroke="#a0a0a0" strokeWidth={0.6} />
          <text x={315} y={501.7 + j * 9.7 + 6.8} fontSize={5.8} fill="#111">{g}</text>
        </g>
      ))}
    </g>
  );
}

// ======================= Panel F =======================
const F_BLUE = "#3f97f2";
const F_RED = "#ee3a3d";
const F_PT_JIT = [-2, 1.5, -0.8, 2.4, 0.3];

function Violin({ vals, y, cx, color, half }) {
  const n = vals.length;
  const sd = d3.deviation(vals);
  const h = 1.06 * sd * Math.pow(n, -0.2);
  const lo = d3.min(vals);
  const hi = d3.max(vals);
  const grid = d3.range(0, 41).map((i) => lo + ((hi - lo) * i) / 40);
  const dens = grid.map((g) => d3.sum(vals, (v) => Math.exp(-0.5 * ((g - v) / h) ** 2)));
  const m = d3.max(dens);
  const right = grid.map((g, i) => [cx + (dens[i] / m) * half, y(g)]);
  const left = grid.map((g, i) => [cx - (dens[i] / m) * half, y(g)]).reverse();
  const path = d3.line()([...right, ...left]) + "Z";
  const med = d3.median(vals);
  const dm = d3.sum(vals, (v) => Math.exp(-0.5 * ((med - v) / h) ** 2)) / m * half;
  return (
    <g>
      <path d={path} fill="#fff" stroke={color} strokeWidth={1} />
      <line x1={cx - dm} x2={cx + dm} y1={y(med)} y2={y(med)} stroke={color} strokeOpacity={0.5} strokeWidth={0.6} strokeDasharray="1.5,1" />
      {vals.map((v, i) => (
        <circle key={i} cx={cx + F_PT_JIT[i % F_PT_JIT.length]} cy={y(v)} r={0.6} fill="#333" />
      ))}
    </g>
  );
}

function PanelF() {
  const axisXs = [379.3, 455, 536.7, 618.3];
  const rows = [
    { top: 480, bot: 542.7, xlab: 549.8, titleY: 476.5, pY: 483.6 },
    { top: 566, bot: 631.7, xlab: 638.8, titleY: 563.5, pY: 572.2 },
  ];
  const titleX = [404, 480, 561.7, 646.7, 415, 486.7, 570, 653.3];
  const pX = [408.3, 475, 556.7, 648, 408.3, 483.3, 566.7, 652.5];
  return (
    <g>
      <text x={353} y={475} fontSize={17}>F</text>
      {F_TITLES.map((t, k) => {
        const R = rows[Math.floor(k / 4)];
        const ax = axisXs[k % 4];
        const ticks = F_TICKS[k];
        const y = d3.scaleLinear().domain([ticks[0], ticks[ticks.length - 1]]).range([R.bot, R.top]);
        const x = d3.scalePoint().domain(F_GROUPS).range([ax + 18, ax + 42]);
        const fmt = ticks.some((v) => v % 1 !== 0) ? d3.format(".1f") : d3.format("d");
        return (
          <g key={t}>
            <line x1={ax} x2={ax} y1={R.top} y2={R.bot} stroke="#222" strokeWidth={0.6} />
            <line x1={ax} x2={ax + 54} y1={R.bot} y2={R.bot} stroke="#222" strokeWidth={0.6} />
            {ticks.map((v) => (
              <g key={v}>
                <line x1={ax - 2} x2={ax} y1={y(v)} y2={y(v)} stroke="#222" strokeWidth={0.5} />
                <text x={ax - 3} y={y(v) + 1.6} fontSize={4.6} textAnchor="end" fill="#222">{fmt(v)}</text>
              </g>
            ))}
            <text transform={`translate(${ax - 12.5},${(R.top + R.bot) / 2}) rotate(-90)`} fontSize={4.2} textAnchor="middle" fill="#222">Normalized Intensity (Log-Scale)</text>
            {F_GROUPS.map((g) => (
              <g key={g}>
                <line x1={x(g)} x2={x(g)} y1={R.bot} y2={R.bot + 2} stroke="#222" strokeWidth={0.5} />
                <text x={x(g)} y={R.xlab} fontSize={5.4} textAnchor="middle" fill="#222">{g}</text>
              </g>
            ))}
            <Violin vals={F_NC[k]} y={y} cx={x(F_GROUPS[0])} color={F_BLUE} half={8.8} />
            <Violin vals={F_L1[k]} y={y} cx={x(F_GROUPS[1])} color={F_RED} half={9.5} />
            <text x={titleX[k]} y={R.titleY} fontSize={5.8} textAnchor="middle" fill="#222">{t}</text>
            <text x={pX[k]} y={R.pY} fontSize={5.8} textAnchor="middle" fill="#222">{F_PVALUES[k]}</text>
          </g>
        );
      })}
      <rect x={634} y={568.5} width={7} height={3.6} fill="none" stroke={F_BLUE} strokeWidth={0.8} />
    </g>
  );
}

// ======================= Panel G =======================
const G_BLUE = "#4f97f0";
const G_RED = "#ef3f43";
const G_JIT = [-2.2, 1.8, -0.6, 2.6, 0.4, -1.6, 1.1, -2.6, 0.0, 2.1, -1.1, 1.5, -0.2, 2.4, -2.0, 0.8, -0.9];

function GBars({ cats, bm, bs, rm, rs, bp, rp, sig, ticks, L }) {
  const y = d3.scaleLinear().domain([0, L.yMax]).range([L.base, L.base - L.yMax * L.ppu]);
  const x = d3.scaleBand().domain(cats).range([L.axisX, L.axisX + cats.length * L.step]);
  const fmt = d3.format(L.fmt);
  const series = [
    { mean: bm, sd: bs, pts: bp, off: L.bOff, color: G_BLUE },
    { mean: rm, sd: rs, pts: rp, off: L.rOff, color: G_RED },
  ];
  const ctr = (c) => x(c) + (L.bOff + L.rOff + L.bw) / 2;
  return (
    <g>
      {cats.map((c, i) => (
        <g key={c}>
          {series.map((s, si) => {
            const bx = x(c) + s.off;
            const cx = bx + L.bw / 2;
            const top = y(s.mean[i] + s.sd[i]);
            const bot = y(Math.max(0, s.mean[i] - s.sd[i]));
            return (
              <g key={si}>
                <rect x={bx} y={y(s.mean[i])} width={L.bw} height={L.base - y(s.mean[i])} fill="#fff" stroke={s.color} strokeWidth={L.sw} />
                {s.pts[i].map((v, k) => (
                  <circle key={k} cx={cx + (G_JIT[k % G_JIT.length] * L.bw) / 7} cy={y(v)} r={L.pr}
                    fill={L.ptColored ? s.color : "#6e6e6e"} fillOpacity={L.ptColored ? 1 : 0.75} />
                ))}
                <line x1={cx} x2={cx} y1={top} y2={bot} stroke={s.color} strokeWidth={1} />
                <line x1={cx - 2} x2={cx + 2} y1={top} y2={top} stroke={s.color} strokeWidth={1} />
                <line x1={cx - 2} x2={cx + 2} y1={bot} y2={bot} stroke={s.color} strokeWidth={1} />
              </g>
            );
          })}
          <line x1={ctr(c)} x2={ctr(c)} y1={L.base} y2={L.base + 2.5} stroke="#000" strokeWidth={1} />
          <text transform={`translate(${ctr(c) + 2},${L.base + 5}) rotate(-45)`} fontSize={7.4} textAnchor="end" fill="#111">{c}</text>
          {sig[i] ? (
            <text x={L.starOnRed ? x(c) + L.rOff + L.bw / 2 : ctr(c)}
              y={L.starOnRed ? y(d3.max(rp[i])) + L.starDy : y(rm[i] + rs[i]) + L.starDy}
              fontSize={8} textAnchor="middle" fill="#111">{sig[i]}</text>
          ) : null}
        </g>
      ))}
      <line x1={L.axisX} x2={L.axisX} y1={L.base} y2={y(L.yMax)} stroke="#000" strokeWidth={1.2} />
      <line x1={L.axisX} x2={L.xEnd} y1={L.base} y2={L.base} stroke="#000" strokeWidth={1.2} />
      {ticks.map((t) => (
        <g key={t}>
          <line x1={L.axisX - 3} x2={L.axisX} y1={y(t)} y2={y(t)} stroke="#000" strokeWidth={1.1} />
          <text x={L.axisX - 4} y={y(t) + 2.8} fontSize={7.8} fontWeight="bold" textAnchor="end" fill="#111">{fmt(t)}</text>
        </g>
      ))}
      <text transform={`translate(${L.ylabX},${L.ylabY}) rotate(-90)`} fontSize={L.ylabSize} textAnchor="middle" fill="#111">{L.ylab}</text>
    </g>
  );
}

function GLegend({ x, y, labels, sups }) {
  const cols = [G_RED, G_BLUE];
  return (
    <g>
      {labels.map((l, i) => (
        <g key={l + i}>
          <rect x={x} y={y + i * 12} width={6.3} height={3.4} fill="#fff" stroke={cols[i]} strokeWidth={1} />
          <text x={x + 10.3} y={y + i * 12 + 4.3} fontSize={7.3} fill="#111">
            {l}
            {sups ? <tspan dy={-2.8} fontSize={4.5}>{sups[i]}</tspan> : null}
          </text>
        </g>
      ))}
    </g>
  );
}

function PanelG() {
  const L1 = { axisX: 40.7, base: 777.7, ppu: 10.4, yMax: 10, fmt: "d", step: 30, bOff: 9.3, rOff: 21, bw: 7, xEnd: 221.7,
    sw: 1.8, pr: 1.3, ptColored: true, starOnRed: false, starDy: -3.5,
    ylab: "Secretion value (ng/ml)", ylabX: 21, ylabY: 744, ylabSize: 6.8 };
  const L2 = { axisX: 268.3, base: 775.7, ppu: 67.4, yMax: 1.5, fmt: ".1f", step: 30.5, bOff: 1.7, rOff: 13.4, bw: 8.3, xEnd: 451.7,
    sw: 1.3, pr: 0.9, ptColored: false, starOnRed: true, starDy: 4,
    ylab: "Metabolite content (ng/\u03bcg protein)", ylabX: 238.5, ylabY: 722, ylabSize: 7.1 };
  const L3 = { axisX: 500, base: 775.7, ppu: 68, yMax: 1.5, fmt: ".1f", step: 29.7, bOff: 3.3, rOff: 14.3, bw: 7.2, xEnd: 676.7,
    sw: 1.3, pr: 0.9, ptColored: false, starOnRed: true, starDy: -1,
    ylab: "Metabolite content (ng/\u03bcg protein)", ylabX: 463.5, ylabY: 722, ylabSize: 7.1 };
  return (
    <g>
      <text x={2} y={663.3} fontSize={17}>G</text>
      <GBars cats={G_CATS} bm={G1_BLUE_MEAN} bs={G1_BLUE_SD} rm={G1_RED_MEAN} rs={G1_RED_SD} bp={G1_BLUE_PTS} rp={G1_RED_PTS} sig={G1_SIG} ticks={G1_TICKS} L={L1} />
      <GBars cats={G_CATS} bm={G2_BLUE_MEAN} bs={G2_BLUE_SD} rm={G2_RED_MEAN} rs={G2_RED_SD} bp={G2_BLUE_PTS} rp={G2_RED_PTS} sig={G2_SIG} ticks={G_FRAC_TICKS} L={L2} />
      <GBars cats={G_CATS} bm={G3_BLUE_MEAN} bs={G3_BLUE_SD} rm={G3_RED_MEAN} rs={G3_RED_SD} bp={G3_BLUE_PTS} rp={G3_RED_PTS} sig={G3_SIG} ticks={G_FRAC_TICKS} L={L3} />
      <GLegend x={156} y={665.7} labels={["H520", "H520"]} sups={["OV-L1-FGGY", "OV-NC"]} />
      <GLegend x={356.7} y={664.3} labels={["LUSC tissues", "para-carcinoma tissues"]} />
      <GLegend x={600} y={664.3} labels={["L1-FGGY+  tissues", "L1-FGGY-  tissues"]} />
    </g>
  );
}

export default function App() {
  return (
    <svg width={685} height={809} viewBox="0 0 685 809" fontFamily={FONT}
      style={{ position: "absolute", left: 0, top: 0, background: "#fff" }}>
      <rect width={685} height={809} fill="#fff" />
      <PanelA />
      <PanelB />
      <PanelC />
      <PanelD />
      <PanelE />
      <PanelF />
      <PanelG />
    </svg>
  );
}
